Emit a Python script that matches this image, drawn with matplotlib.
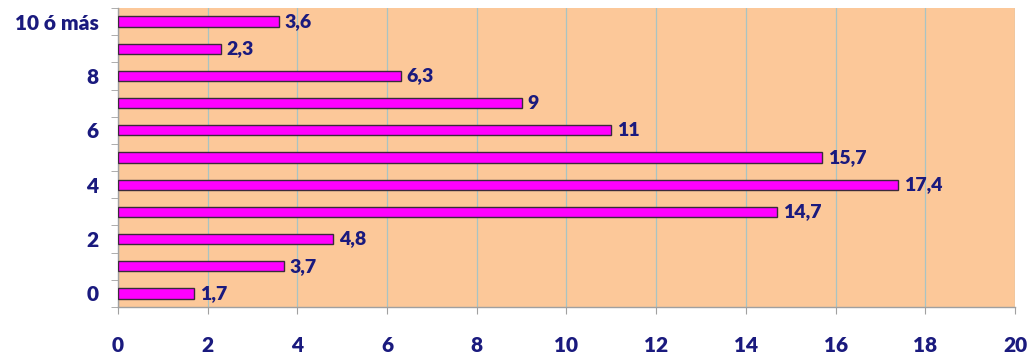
import matplotlib
matplotlib.use("Agg")
import matplotlib.pyplot as plt
import numpy as np

categories = ["0", "1", "2", "3", "4", "5", "6", "7", "8", "9", "10 ó más"]
shown_labels = ["0", "", "2", "", "4", "", "6", "", "8", "", "10 ó más"]
values = [1.7, 3.7, 4.8, 14.7, 17.4, 15.7, 11, 9, 6.3, 2.3, 3.6]
value_labels = ["1,7", "3,7", "4,8", "14,7", "17,4", "15,7", "11", "9", "6,3", "2,3", "3,6"]
xticks = [0, 2, 4, 6, 8, 10, 12, 14, 16, 18, 20]

navy = "#1A1A7E"
plt.rcParams['font.family'] = ['Lato', 'DejaVu Sans']
W = "heavy"

fig = plt.figure(figsize=(10.32, 3.57), dpi=100)
ax = fig.add_axes([0.1143, 0.140, 0.8692, 0.8376])
ax.set_facecolor("#FCC899")

y = np.arange(len(categories))
ax.barh(y, values, height=0.38, color="#FF00FF", edgecolor="#3A2A3A", linewidth=1.0, zorder=3)
for yi, v, lab in zip(y, values, value_labels):
    ax.annotate(lab, (v, yi), xytext=(4, 0), textcoords="offset points",
                va="center", ha="left", color=navy, fontsize=14, fontweight=W)

ax.set_xlim(0, 20)
ax.set_ylim(-0.5, len(categories) - 0.5)
ax.set_xticks(xticks)
ax.set_xticklabels([str(t) for t in xticks])
ax.set_yticks(y)
ax.set_yticklabels(shown_labels)
ax.set_yticks(np.arange(-0.5, len(categories), 1.0), minor=True)
ax.tick_params(axis="y", which="major", length=0, pad=14, labelsize=15, labelcolor=navy)
ax.tick_params(axis="y", which="minor", length=5, color="#A0A0A0", direction="out")
ax.tick_params(axis="x", which="major", length=5, color="#A0A0A0", pad=16, labelsize=15, labelcolor=navy)
for lab in ax.get_xticklabels() + ax.get_yticklabels():
    lab.set_fontweight(W)

ax.grid(axis="x", color="#A8C4C4", linewidth=0.9, zorder=0)
ax.set_axisbelow(True)
for s in ["top", "right"]:
    ax.spines[s].set_visible(False)
for s in ["left", "bottom"]:
    ax.spines[s].set_color("#A0A0A0")
    ax.spines[s].set_linewidth(1.0)

fig.savefig("out.png", dpi=100)
